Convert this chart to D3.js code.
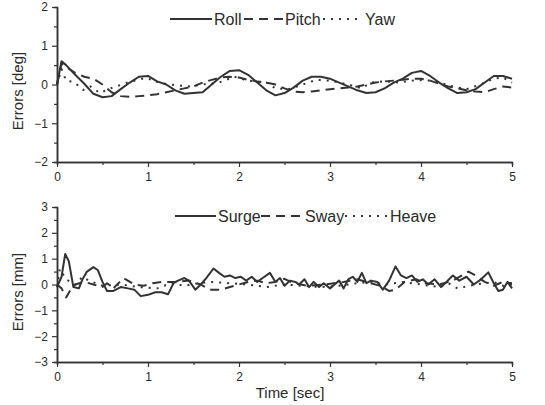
<!DOCTYPE html>
<html>
<head>
<meta charset="utf-8">
<script src="https://cdn.jsdelivr.net/npm/d3@7"></script>
<style>
  body { margin: 0; background: #fff; }
  svg text { font-family: "Liberation Sans", Arial, sans-serif; fill: #2a2a2a; }
</style>
</head>
<body>
<div id="chart"></div>
<script>
// top panel: attitude errors [deg], pairs of [time, value]
const roll = [[0,0],[0.05,0.6],[0.1,0.5],[0.2,0.25],[0.3,0.02],[0.4,-0.24],[0.5,-0.33],[0.6,-0.3],[0.7,-0.12],[0.8,0.05],[0.9,0.2],[1.0,0.22],[1.1,0.08],[1.2,0.0],[1.3,-0.15],[1.4,-0.24],[1.5,-0.22],[1.6,-0.2],[1.7,0.0],[1.8,0.2],[1.9,0.35],[2.0,0.37],[2.1,0.25],[2.2,0.05],[2.3,-0.15],[2.4,-0.28],[2.5,-0.22],[2.6,-0.08],[2.7,0.1],[2.8,0.2],[2.9,0.2],[3.0,0.15],[3.1,0.05],[3.2,-0.05],[3.3,-0.15],[3.4,-0.22],[3.5,-0.2],[3.6,-0.1],[3.7,0.05],[3.8,0.15],[3.9,0.3],[4.0,0.35],[4.1,0.22],[4.2,0.05],[4.3,-0.1],[4.4,-0.22],[4.5,-0.2],[4.6,-0.12],[4.7,0.05],[4.8,0.22],[4.9,0.22],[5.0,0.15]];
const pitch = [[0,0],[0.05,0.55],[0.1,0.45],[0.2,0.3],[0.3,0.2],[0.4,0.15],[0.5,0.0],[0.6,-0.2],[0.7,-0.3],[0.8,-0.32],[0.9,-0.3],[1.0,-0.28],[1.1,-0.25],[1.2,-0.2],[1.3,-0.15],[1.4,-0.1],[1.5,-0.05],[1.6,0.05],[1.7,0.12],[1.8,0.18],[1.9,0.2],[2.0,0.18],[2.1,0.12],[2.2,0.08],[2.3,0.05],[2.4,0.0],[2.5,-0.1],[2.6,-0.18],[2.7,-0.2],[2.8,-0.18],[2.9,-0.15],[3.0,-0.12],[3.1,-0.1],[3.2,-0.08],[3.3,-0.05],[3.4,0.0],[3.5,0.05],[3.6,0.08],[3.7,0.1],[3.8,0.12],[3.9,0.15],[4.0,0.15],[4.1,0.1],[4.2,0.02],[4.3,-0.05],[4.4,-0.1],[4.5,-0.15],[4.6,-0.18],[4.7,-0.2],[4.8,-0.12],[4.9,-0.05],[5.0,-0.08]];
const yaw = [[0,0],[0.05,0.4],[0.1,0.1],[0.18,0.07],[0.29,-0.14],[0.37,-0.05],[0.47,-0.22],[0.6,-0.09],[0.8,0.07],[0.98,0.17],[1.13,0.04],[1.3,-0.02],[1.45,-0.05],[1.6,0.0],[1.78,0.05],[1.95,0.2],[2.1,0.1],[2.3,0.05],[2.4,-0.1],[2.55,-0.12],[2.7,0.0],[2.85,0.12],[3.0,0.1],[3.2,0.0],[3.35,-0.1],[3.45,0.05],[3.6,0.08],[3.75,0.05],[3.9,0.1],[4.05,0.12],[4.2,0.05],[4.35,-0.05],[4.5,-0.12],[4.65,0.0],[4.8,0.15],[4.9,0.18],[5.0,0.05]];

// bottom panel: position errors [mm]
const surge = [[0,-0.1],[0.05,0.3],[0.09,1.18],[0.13,0.9],[0.18,-0.1],[0.24,-0.15],[0.28,0.2],[0.33,0.5],[0.4,0.67],[0.45,0.55],[0.5,0.1],[0.55,-0.25],[0.62,-0.25],[0.7,-0.1],[0.78,-0.15],[0.85,-0.2],[0.92,-0.45],[1.0,-0.4],[1.08,-0.3],[1.15,-0.3],[1.22,-0.38],[1.28,0.05],[1.33,0.15],[1.4,0.25],[1.45,0.15],[1.52,-0.2],[1.58,0.0],[1.64,0.25],[1.72,0.62],[1.78,0.45],[1.84,0.3],[1.9,0.35],[1.96,0.25],[2.02,0.3],[2.08,0.15],[2.14,0.3],[2.2,0.1],[2.26,0.25],[2.34,0.45],[2.4,0.1],[2.45,0.25],[2.5,-0.05],[2.56,0.15],[2.62,0.1],[2.66,0.0],[2.72,0.2],[2.77,-0.1],[2.82,0.1],[2.88,-0.1],[2.93,0.05],[3.0,-0.15],[3.05,0.0],[3.1,0.15],[3.15,-0.15],[3.2,0.2],[3.25,0.3],[3.3,0.1],[3.35,0.45],[3.4,0.05],[3.45,0.15],[3.52,0.1],[3.58,-0.2],[3.65,0.15],[3.72,0.7],[3.78,0.35],[3.84,0.25],[3.9,0.35],[3.96,0.1],[4.02,0.2],[4.08,0.0],[4.15,0.2],[4.22,-0.1],[4.28,0.1],[4.35,0.35],[4.42,0.15],[4.5,0.3],[4.58,0.0],[4.66,0.2],[4.74,0.47],[4.8,0.05],[4.85,-0.25],[4.9,-0.2],[4.95,0.1],[5.0,-0.15]];
const sway = [[0,0],[0.05,-0.15],[0.1,-0.5],[0.15,-0.2],[0.2,0.0],[0.3,0.1],[0.4,0.0],[0.5,-0.1],[0.55,0.05],[0.62,-0.15],[0.73,0.25],[0.85,0.0],[0.95,-0.05],[1.05,0.05],[1.15,0.1],[1.3,0.1],[1.45,0.15],[1.58,0.0],[1.68,-0.2],[1.8,-0.2],[1.9,-0.1],[2.0,0.0],[2.1,0.1],[2.2,0.15],[2.3,0.05],[2.4,0.1],[2.5,0.22],[2.6,0.05],[2.75,-0.05],[2.95,0.0],[3.15,0.1],[3.3,0.2],[3.45,0.05],[3.55,-0.05],[3.65,-0.25],[3.72,-0.2],[3.82,0.1],[3.95,0.2],[4.05,0.05],[4.2,0.0],[4.35,0.15],[4.45,0.35],[4.52,0.5],[4.6,0.35],[4.7,0.1],[4.8,-0.05],[4.9,0.1],[5.0,0.05]];
const heave = [[0,-0.1],[0.03,0.6],[0.1,0.2],[0.2,0.0],[0.28,0.3],[0.35,0.15],[0.5,-0.05],[0.7,0.0],[0.9,-0.1],[1.1,-0.15],[1.25,0.05],[1.4,-0.05],[1.55,0.05],[1.7,0.1],[1.9,0.05],[2.1,0.0],[2.3,-0.1],[2.5,0.0],[2.7,-0.05],[2.9,-0.1],[3.1,-0.05],[3.3,0.05],[3.45,0.1],[3.6,0.0],[3.8,0.1],[4.0,0.0],[4.2,-0.1],[4.3,0.05],[4.4,-0.15],[4.6,0.0],[4.8,0.1],[4.9,-0.05],[5.0,0.0]];

const xTicks = [0, 1, 2, 3, 4, 5];
const xMinor = [0.5, 1.5, 2.5, 3.5, 4.5];
const topYTicks = [-2, -1, 0, 1, 2];
const botYTicks = [-3, -2, -1, 0, 1, 2, 3];

const width = 545, height = 405;
const ink = "#333";
const fmt = d3.format("d");

const svg = d3.select("#chart").append("svg")
    .attr("width", width)
    .attr("height", height);

const x = d3.scaleLinear().domain([0, 5]).range([57, 512]);

// draw one panel (axes + lines + legend)
function panel(cfg) {
    const y = d3.scaleLinear().domain(cfg.yDomain).range([cfg.yBottom, cfg.yTop]);
    const g = svg.append("g");

    // minor ticks first
    g.append("g")
        .attr("transform", "translate(0," + cfg.yBottom + ")")
        .call(d3.axisBottom(x).tickValues(xMinor).tickSize(3).tickFormat(""));
    const yMinor = d3.range(cfg.yDomain[0] + 0.5, cfg.yDomain[1], 1);
    g.append("g")
        .attr("transform", "translate(57,0)")
        .call(d3.axisLeft(y).tickValues(yMinor).tickSize(3).tickFormat(""));

    g.append("g")
        .attr("transform", "translate(0," + cfg.yBottom + ")")
        .call(d3.axisBottom(x).tickValues(xTicks).tickFormat(fmt).tickSize(5).tickSizeOuter(0).tickPadding(5));
    g.append("g")
        .attr("transform", "translate(57,0)")
        .call(d3.axisLeft(y).tickValues(cfg.yTicks).tickFormat(fmt).tickSize(5).tickSizeOuter(0).tickPadding(4));

    g.selectAll(".domain").attr("stroke", ink).attr("stroke-width", 1.5);
    g.selectAll(".tick line").attr("stroke", ink).attr("stroke-width", 1.2);
    g.selectAll(".tick text").attr("font-size", 12).attr("fill", "#2a2a2a")
        .attr("font-family", "'Liberation Sans', Arial, sans-serif");

    // y axis title
    g.append("text")
        .attr("transform", "translate(23," + cfg.titleY + ") rotate(-90)")
        .attr("text-anchor", "middle")
        .attr("font-size", 15)
        .text(cfg.title);

    const line = d3.line().x(d => x(d[0])).y(d => y(d[1]));
    cfg.series.forEach(s => {
        g.append("path")
            .datum(s.data)
            .attr("fill", "none")
            .attr("stroke", ink)
            .attr("stroke-width", s.width)
            .attr("stroke-dasharray", s.dash)
            .attr("stroke-linejoin", "round")
            .attr("d", line);
    });

    // legend
    const lg = g.append("g");
    cfg.series.forEach((s, i) => {
        const it = cfg.legend[i];
        lg.append("line")
            .attr("x1", it.x0).attr("x2", it.x1)
            .attr("y1", cfg.legendY).attr("y2", cfg.legendY)
            .attr("stroke", ink)
            .attr("stroke-width", s.width)
            .attr("stroke-dasharray", s.dash);
        lg.append("text")
            .attr("x", it.x1 + 2)
            .attr("y", cfg.legendY + 5.5)
            .attr("font-size", 16)
            .text(s.name);
    });
}

panel({
    yDomain: [-2, 2], yTop: 7, yBottom: 162, yTicks: topYTicks,
    title: "Errors [deg]", titleY: 91, legendY: 19,
    series: [
        {name: "Roll", data: roll, dash: null, width: 2},
        {name: "Pitch", data: pitch, dash: "9,6", width: 2},
        {name: "Yaw", data: yaw, dash: "2,6", width: 2}
    ],
    legend: [{x0: 170, x1: 212}, {x0: 244, x1: 283}, {x0: 323, x1: 363}]
});

panel({
    yDomain: [-3, 3], yTop: 207, yBottom: 362, yTicks: botYTicks,
    title: "Errors [mm]", titleY: 292, legendY: 216,
    series: [
        {name: "Surge", data: surge, dash: null, width: 2},
        {name: "Sway", data: sway, dash: "9,6", width: 2},
        {name: "Heave", data: heave, dash: "2,6", width: 2}
    ],
    legend: [{x0: 175, x1: 216}, {x0: 261, x1: 303}, {x0: 345, x1: 388}]
});

svg.append("text")
    .attr("x", 290)
    .attr("y", 398)
    .attr("text-anchor", "middle")
    .attr("font-size", 15)
    .text("Time [sec]");
</script>
</body>
</html>
